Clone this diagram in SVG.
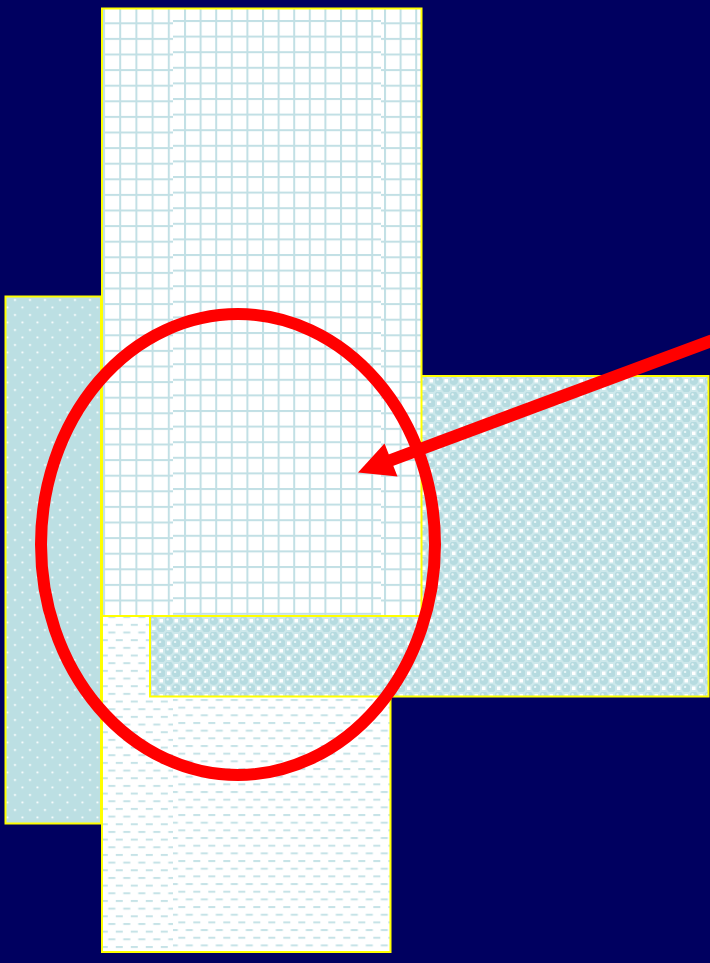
<svg xmlns="http://www.w3.org/2000/svg" width="710" height="963" viewBox="0 0 710 963">
<style>
.frame{fill:none;stroke:#FFFF00;stroke-width:2}
.red{stroke:#FF0000;fill:none}
</style>
<defs>
<pattern id="dots" patternUnits="userSpaceOnUse" width="15" height="15" x="11.25" y="296.25">
<rect width="15" height="15" fill="#BCDFE3"/>
<circle cx="3.75" cy="3.75" r="1.1" fill="#FFFFFF"/>
<circle cx="11.25" cy="11.25" r="1.1" fill="#FFFFFF"/>
</pattern>
<pattern id="checker" patternUnits="userSpaceOnUse" width="15" height="15" x="150" y="377">
<rect width="15" height="15" fill="#CDE8EB"/>
<circle cx="3.75" cy="3.75" r="4.3" fill="#B6DBE0"/>
<circle cx="11.25" cy="11.25" r="4.3" fill="#B6DBE0"/>
<circle cx="2.6" cy="2.4" r="1.2" fill="#E6F4F6"/>
<circle cx="10.1" cy="9.9" r="1.2" fill="#E6F4F6"/>
<rect x="9.5" y="2" width="3.5" height="3.5" fill="#FFFFFF"/>
<rect x="2" y="9.5" width="3.5" height="3.5" fill="#FFFFFF"/>
</pattern>
<pattern id="dashR" patternUnits="userSpaceOnUse" width="15" height="15.34" x="178.3" y="844.7">
<rect width="15" height="15.34" fill="#FFFFFF"/>
<rect x="0" y="0" width="7" height="2" fill="#C6E3E7"/>
<rect x="7.5" y="7.67" width="7" height="2" fill="#C6E3E7"/>
</pattern>
<pattern id="dashL" patternUnits="userSpaceOnUse" width="15" height="15.34" x="145.8" y="838.6">
<rect width="15" height="15.34" fill="#FFFFFF"/>
<rect x="0" y="0" width="7" height="2" fill="#C6E3E7"/>
<rect x="7.5" y="7.67" width="7" height="2" fill="#C6E3E7"/>
</pattern>
<pattern id="gridL" patternUnits="userSpaceOnUse" width="16.2" height="15.6" x="103" y="22.3">
<rect width="16.2" height="15.6" fill="#FFFFFF"/>
<rect x="0" y="0" width="2" height="15.6" fill="#C2E0E5"/>
<rect x="0" y="0" width="16.2" height="2" fill="#C2E0E5"/>
</pattern>
<pattern id="gridM" patternUnits="userSpaceOnUse" width="15.6" height="15.6" x="184" y="20">
<rect width="15.6" height="15.6" fill="#FFFFFF"/>
<rect x="0" y="0" width="2" height="15.6" fill="#C2E0E5"/>
<rect x="0" y="0" width="15.6" height="2" fill="#C2E0E5"/>
</pattern>
<pattern id="gridR" patternUnits="userSpaceOnUse" width="15.6" height="15.6" x="384" y="22.3">
<rect width="15.6" height="15.6" fill="#FFFFFF"/>
<rect x="0" y="0" width="2" height="15.6" fill="#C2E0E5"/>
<rect x="0" y="0" width="15.6" height="2" fill="#C2E0E5"/>
</pattern>
</defs>
<rect x="0" y="0" width="710" height="963" fill="#000060"/>
<g id="dotted-panel">
<rect x="5.5" y="296.5" width="95.5" height="527" fill="url(#dots)"/>
<rect x="5.5" y="296.5" width="95.5" height="527" class="frame"/>
</g>
<g id="dashed-panel">
<rect x="102" y="600" width="71" height="352" fill="url(#dashL)"/>
<rect x="173" y="600" width="217.5" height="352" fill="url(#dashR)"/>
<rect x="102" y="600" width="288.5" height="352" class="frame"/>
</g>
<g id="checker-panel">
<rect x="150" y="376" width="558.5" height="320.5" fill="url(#checker)"/>
<rect x="150" y="376" width="558.5" height="320.5" class="frame"/>
</g>
<g id="grid-panel">
<rect x="102" y="8.5" width="71" height="607.5" fill="url(#gridL)"/>
<rect x="173" y="8.5" width="208" height="607.5" fill="url(#gridM)"/>
<rect x="381" y="8.5" width="40.5" height="607.5" fill="url(#gridR)"/>
<rect x="102" y="8.5" width="319.5" height="607.5" class="frame"/>
</g>
<g id="connectors">
<ellipse cx="238" cy="544.5" rx="197" ry="230.5" class="red" stroke-width="12"/>
<line x1="712" y1="340.5" x2="390" y2="460.5" class="red" stroke-width="12.5"/>
<polygon points="358,472.5 384.5,443.5 397.5,476.5" fill="#FF0000"/>
</g>
</svg>
